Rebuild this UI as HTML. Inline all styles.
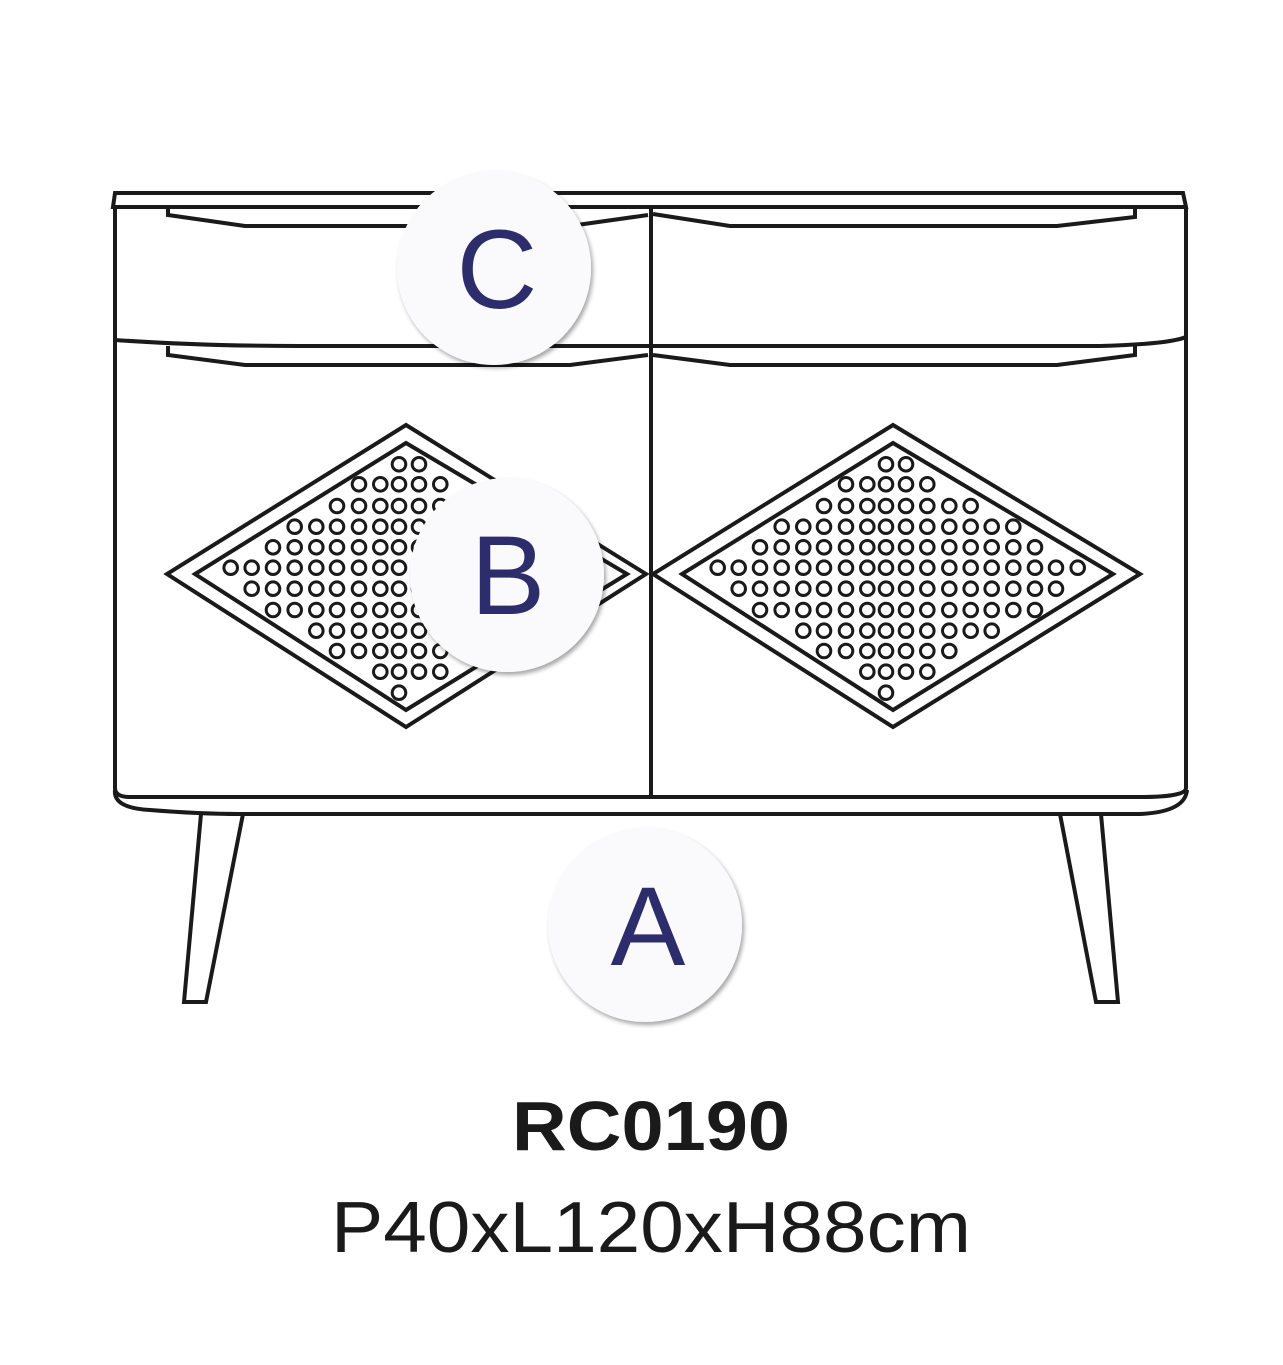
<!DOCTYPE html>
<html><head><meta charset="utf-8"><style>
html,body{margin:0;padding:0;background:#fff;}
svg{display:block;}
</style></head><body>
<svg id="s" width="1283" height="1365" viewBox="0 0 1283 1365" xmlns="http://www.w3.org/2000/svg">
<defs>
<filter id="sh" x="-20%" y="-20%" width="150%" height="150%">
<feDropShadow dx="2" dy="3" stdDeviation="2" flood-color="#000" flood-opacity="0.35"/>
</filter>
</defs>
<g fill="none" stroke="#1a1a1a" stroke-width="4" stroke-linejoin="miter">
<path d="M113,207 L115,193 L1183,193 L1186,207 Z"/>
<path d="M115,207 L115,788 Q115,797 130,797 Q200,797 250,797 L1140,797 Q1186,797 1186,788 L1186,207"/>
<path d="M115,790 Q113,808 150,810 Q200,814 240,814 L1140,814 Q1185,812 1187,790"/>
<path d="M115,340 Q200,346 300,346 L1100,346 Q1170,344 1186,337"/>
<line x1="651" y1="207" x2="651" y2="797"/>
<path d="M168,207 L168,215 L245,226 L570,226 L648,215"/>
<path d="M653,214 L730,226 L1057,226 L1135,217 L1135,207"/>
<path d="M168,346 L168,355 L245,365 L570,365 L648,355"/>
<path d="M653,355 L730,365 L1057,365 L1135,355 L1135,346"/>
<path d="M201,814 L184,1002 L206,1002 L243,814"/>
<path d="M1060,814 L1096,1002 L1118,1002 L1101,814"/>
<path d="M406,425 L646,574 L406,727 L167,574 Z"/>
<path d="M406,443 L627,574 L406,710 L195,574 Z"/>
<path d="M893,425 L1140,574 L893,727 L653,574 Z"/>
<path d="M893,443 L1113,574 L893,710 L682,574 Z"/>
</g>
<g id="dots" fill="none" stroke="#1a1a1a" stroke-width="3"></g>
<g filter="url(#sh)" fill="#fafafc">
<circle cx="494" cy="268" r="97"/>
<circle cx="507" cy="575" r="97"/>
<circle cx="645" cy="925" r="97"/>
</g>
<g fill="#2e2d6b" font-family="Liberation Sans, sans-serif" font-size="112" text-anchor="middle">
<text x="497" y="308">C</text>
<text x="508" y="614">B</text>
<text x="648" y="965">A</text>
</g>
<text x="651" y="1150" font-family="Liberation Sans, sans-serif" font-weight="bold" font-size="70" fill="#1a1a1a" text-anchor="middle" textLength="278" lengthAdjust="spacingAndGlyphs">RC0190</text>
<text x="651" y="1252" font-family="Liberation Sans, sans-serif" font-size="72" fill="#1a1a1a" stroke="#fff" stroke-width="1.6" paint-order="stroke" text-anchor="middle" textLength="640" lengthAdjust="spacingAndGlyphs">P40xL120xH88cm</text>
</svg>
<script>
var xs=[717.7,738.7,760,781.7,803.3,824,846,867.3,886,906,927.3,949.3,970.7,991.7,1013.3,1035,1056,1077.7];
var ys=[464.3,484.3,506,526.7,547.3,567.7,588.7,610,630.7,651,671.7,692.7];
var rows=[[8,9],[6,10],[5,12],[3,14],[2,15],[0,17],[1,16],[2,15],[4,13],[5,11],[7,10],[8,8]];
var g=document.getElementById('dots'),h='';
[0,-487].forEach(function(off){
rows.forEach(function(r,i){for(var c=r[0];c<=r[1];c++){h+='<circle cx="'+(xs[c]+off)+'" cy="'+ys[i]+'" r="6.8"/>';}});
});
g.innerHTML=h;
</script>
</body></html>
